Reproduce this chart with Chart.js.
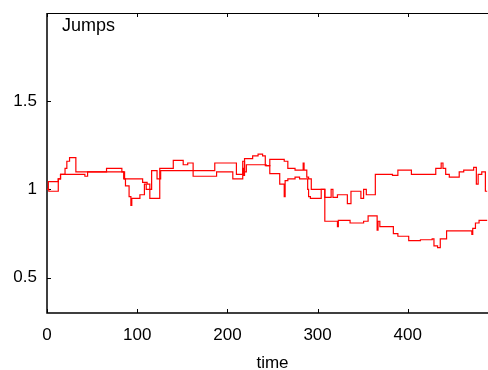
<!DOCTYPE html>
<html>
<head>
<meta charset="utf-8">
<script src="https://cdn.jsdelivr.net/npm/chart.js@4/dist/chart.umd.min.js"></script>
<style>
  html, body { margin: 0; padding: 0; background: #fff; overflow: hidden; }
  #wrap { width: 488px; height: 370px; overflow: hidden; }
</style>
</head>
<body>
<div id="wrap"><canvas id="chart" width="500" height="374"></canvas></div>
<script>
// path that ends low
const lowTimes = [0, 2, 12.5, 15, 20, 22, 25, 32, 66, 83, 86, 106, 111, 114, 116, 122, 126, 186, 210, 217, 219, 221, 243, 247, 263, 267, 275, 284, 285, 288, 290, 293, 308, 322, 323, 336, 351, 356, 366, 367, 369, 384, 389, 401, 414, 427, 429, 433, 436, 443, 471, 472, 475, 479, 488];
const lowValues = [1.0, 0.99, 1.06, 1.085, 1.12, 1.16, 1.18, 1.10, 1.12, 1.10, 1.06, 1.04, 1.03, 1.0, 1.107, 1.06, 1.107, 1.15, 1.085, 1.16, 1.10, 1.14, 1.135, 1.17, 1.16, 1.12, 1.11, 1.15, 1.11, 1.07, 1.06, 1.0, 0.82, 0.79, 0.825, 0.81, 0.82, 0.85, 0.77, 0.82, 0.79, 0.75, 0.735, 0.71, 0.715, 0.72, 0.68, 0.67, 0.72, 0.765, 0.745, 0.78, 0.81, 0.825, 0.825];

// path that ends high
const highTimes = [0, 1.5, 12.5, 15, 42, 45, 85, 87, 91, 93, 94, 103, 108, 110, 114, 125, 140, 151, 156, 162, 188, 206, 217, 218, 219, 228, 234, 239, 242, 247, 258, 263, 264, 267, 275, 280, 289, 290, 292, 304, 308, 315, 317, 322, 333, 337, 348, 351, 354, 364, 383, 389, 404, 431, 437, 439, 442, 446, 457, 462, 473, 476, 478, 482, 486, 488];
const highValues = [1.0, 1.045, 1.06, 1.085, 1.075, 1.10, 1.06, 1.02, 0.96, 0.91, 0.95, 0.97, 1.03, 1.0, 0.95, 1.12, 1.165, 1.14, 1.15, 1.075, 1.10, 1.06, 1.12, 1.08, 1.175, 1.19, 1.20, 1.19, 1.135, 1.09, 1.03, 0.96, 1.05, 1.06, 1.07, 1.06, 1.0, 0.96, 0.95, 1.0, 0.955, 1.0, 0.955, 0.97, 0.92, 0.99, 0.95, 1.0, 0.97, 1.085, 1.08, 1.11, 1.085, 1.12, 1.15, 1.12, 1.085, 1.07, 1.10, 1.11, 1.125, 1.03, 1.085, 1.10, 0.99, 0.99];

const xTickValues = [0, 100, 200, 300, 400];
const yTickValues = [0.5, 1, 1.5];

const fontFamily = '"Liberation Sans", Arial, sans-serif';

function toPoints(times, values) {
  return times.map((t, i) => ({ x: t, y: values[i] }));
}

// axes frame, inward tick marks and the "Jumps" note
const framePlugin = {
  id: 'frame',
  beforeDatasetsDraw(chart) {
    const ctx = chart.ctx;
    const a = chart.chartArea;
    const x = chart.scales.x;
    const y = chart.scales.y;
    ctx.save();
    ctx.strokeStyle = '#000';
    ctx.lineWidth = 1.5;
    ctx.beginPath();
    ctx.moveTo(a.left, a.top);
    ctx.lineTo(a.left, a.bottom);
    ctx.lineTo(a.right, a.bottom);
    ctx.stroke();

    ctx.lineWidth = 1;
    ctx.beginPath();
    ctx.moveTo(a.left, a.top + 0.5);
    ctx.lineTo(a.right, a.top + 0.5);
    xTickValues.forEach(v => {
      const px = Math.round(x.getPixelForValue(v)) + 0.5;
      ctx.moveTo(px, a.bottom);
      ctx.lineTo(px, a.bottom - 4);
      ctx.moveTo(px, a.top);
      ctx.lineTo(px, a.top + 4);
    });
    yTickValues.forEach(v => {
      const py = Math.round(y.getPixelForValue(v)) + 0.5;
      ctx.moveTo(a.left, py);
      ctx.lineTo(a.left + 4, py);
    });
    ctx.stroke();

    ctx.fillStyle = '#000';
    ctx.font = '18px ' + fontFamily;
    ctx.textAlign = 'left';
    ctx.textBaseline = 'alphabetic';
    ctx.fillText('Jumps', a.left + 15, a.top + 18);
    ctx.restore();
  }
};

Chart.defaults.color = '#000';
Chart.defaults.font.family = fontFamily;

const chart = new Chart(document.getElementById('chart'), {
  type: 'line',
  data: {
    datasets: [{
      label: 'low',
      data: toPoints(lowTimes, lowValues),
      borderColor: '#ff0000',
      borderWidth: 1.2,
      pointRadius: 0,
      stepped: true,
      fill: false
    }, {
      label: 'high',
      data: toPoints(highTimes, highValues),
      borderColor: '#ff0000',
      borderWidth: 1.2,
      pointRadius: 0,
      stepped: true,
      fill: false
    }]
  },
  options: {
    responsive: false,
    animation: false,
    devicePixelRatio: 1,
    layout: { padding: { top: 13, right: 2, left: 0, bottom: 0 } },
    plugins: {
      legend: { display: false },
      tooltip: { enabled: false }
    },
    scales: {
      x: {
        type: 'linear',
        min: 0,
        max: 500,
        grid: { display: false, drawTicks: false },
        border: { display: false },
        afterBuildTicks: (scale) => { scale.ticks = xTickValues.map(v => ({ value: v })); },
        afterFit: (scale) => { scale.height = 61; scale.paddingLeft = 0; scale.paddingRight = 0; },
        ticks: { padding: 12, maxRotation: 0, font: { size: 17 }, callback: (v) => String(v) },
        title: { display: true, text: 'time', font: { size: 17 }, padding: { top: 0, bottom: 0 } }
      },
      y: {
        type: 'linear',
        min: 0.3,
        max: 2.0,
        grid: { display: false, drawTicks: false },
        border: { display: false },
        afterBuildTicks: (scale) => { scale.ticks = yTickValues.map(v => ({ value: v })); },
        afterFit: (scale) => { scale.width = 47; scale.paddingTop = 0; scale.paddingBottom = 0; },
        ticks: { padding: 10, font: { size: 17 }, callback: (v) => String(v) }
      }
    }
  },
  plugins: [framePlugin]
});
</script>
</body>
</html>
